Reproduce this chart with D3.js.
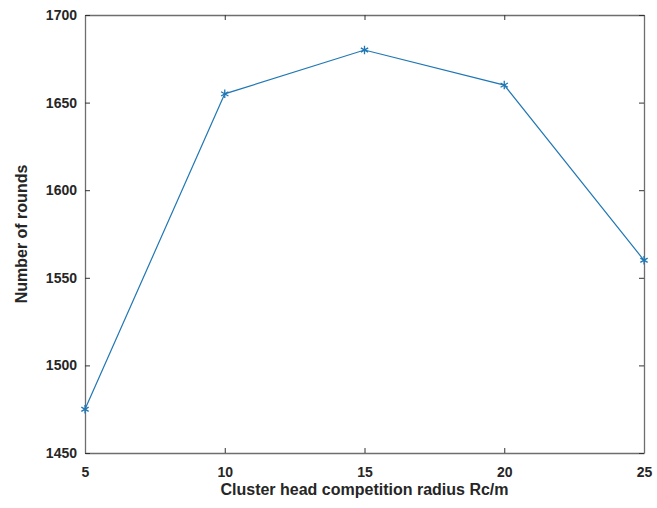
<!DOCTYPE html>
<html lang="en">
<head>
  <meta charset="UTF-8">
  <script src="https://cdn.jsdelivr.net/npm/d3@7"></script>
  <title>Rounds vs radius</title>
  <style>
    body { margin: 0; background: #fff; }
    text { font-family: 'Liberation Sans', Arial, sans-serif; font-weight: bold; fill: #262626; }
    .tick text { font-size: 14px; }
    .label { font-size: 16px; text-anchor: middle; }
  </style>
</head>
<body>
  <script>
    const radius = [5, 10, 15, 20, 25];
    const rounds = [1475, 1655, 1680, 1660, 1560];
    const xTicks = [5, 10, 15, 20, 25];
    const yTicks = [1450, 1500, 1550, 1600, 1650, 1700];

    const width = 657, height = 508;
    const plotL = 85, plotR = 644, plotT = 15, plotB = 453;

    const x = d3.scaleLinear().domain([5, 25]).range([plotL, plotR]);
    const y = d3.scaleLinear().domain([1450, 1700]).range([plotB, plotT]);

    const svg = d3.select('body').append('svg').attr('width', width).attr('height', height);

    const axisColor = '#6e6e6e';
    const fmt = d3.format('d');
    // box + inward ticks like matlab
    svg.append('g').attr('transform', `translate(0,${plotB})`)
      .call(d3.axisBottom(x).tickValues(xTicks).tickFormat(fmt).tickSize(-5).tickPadding(14).tickSizeOuter(0));
    svg.append('g').attr('transform', `translate(0,${plotT})`)
      .call(d3.axisTop(x).tickValues(xTicks).tickSize(-5).tickSizeOuter(0).tickFormat(''));
    svg.append('g').attr('transform', `translate(${plotL},0)`)
      .call(d3.axisLeft(y).tickValues(yTicks).tickFormat(fmt).tickSize(-5).tickPadding(8).tickSizeOuter(0));
    svg.append('g').attr('transform', `translate(${plotR},0)`)
      .call(d3.axisRight(y).tickValues(yTicks).tickSize(-5).tickSizeOuter(0).tickFormat(''));

    svg.selectAll('g').attr('font-family', null).attr('font-size', null);
    svg.selectAll('.domain').attr('stroke', axisColor).attr('stroke-width', 1.3);
    svg.selectAll('.tick line').attr('stroke', '#333');

    svg.append('text').attr('class', 'label')
      .attr('x', (plotL + plotR) / 2).attr('y', 495)
      .text('Cluster head competition radius Rc/m');
    svg.append('text').attr('class', 'label')
      .attr('transform', `translate(27,${(plotT + plotB) / 2}) rotate(-90)`)
      .text('Number of rounds');

    const blue = '#1f77b4';
    const pts = radius.map((r, i) => [r, rounds[i]]);
    svg.append('path').datum(pts)
      .attr('fill', 'none').attr('stroke', blue).attr('stroke-width', 1.2)
      .attr('d', d3.line().x(d => x(d[0])).y(d => y(d[1])));

    const star = d3.symbol().type(d3.symbolAsterisk).size(50);
    svg.selectAll('.mark').data(pts).enter().append('path')
      .attr('class', 'mark')
      .attr('transform', d => `translate(${x(d[0])},${y(d[1])})`)
      .attr('d', star)
      .attr('fill', 'none').attr('stroke', blue).attr('stroke-width', 1.3);
  </script>
</body>
</html>
